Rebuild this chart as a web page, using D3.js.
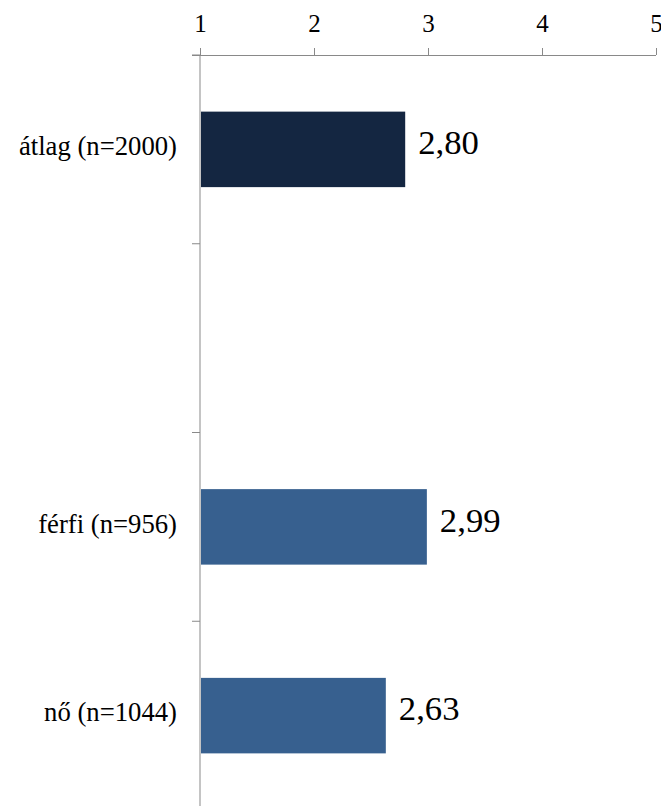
<!DOCTYPE html>
<html>
<head>
<meta charset="utf-8">
<script src="https://cdn.jsdelivr.net/npm/d3@7"></script>
<style>
  body { margin: 0; background: #fff; }
</style>
</head>
<body>
<div id="chart"></div>
<script>
// data
const categories = ["átlag (n=2000)", "", "férfi (n=956)", "nő (n=1044)"];
const values = [2.80, null, 2.99, 2.63];
const barColors = ["#142641", "#37608f", "#37608f", "#37608f"];
const xTicks = [1, 2, 3, 4, 5];

const width = 661, height = 806;
const margin = { top: 55, left: 200, right: 5 };
const plotBottom = 810; // plot area runs past the window bottom
const serif = '"Liberation Serif", "Times New Roman", serif';

const svg = d3.select("#chart")
  .append("svg")
  .attr("width", width)
  .attr("height", height);

const x = d3.scaleLinear()
  .domain([1, 5])
  .range([margin.left, 656]);

// inner 0.6 + outer 0.3 keeps each bar centred in its slot
const y = d3.scaleBand()
  .domain(d3.range(categories.length))
  .range([margin.top, plotBottom])
  .paddingInner(0.6)
  .paddingOuter(0.3);

const axisColor = "#898989";

// top value axis
const xAxis = svg.append("g")
  .attr("transform", `translate(0,${margin.top})`)
  .call(d3.axisTop(x).tickValues(xTicks).tickFormat(d3.format("d"))
    .tickSize(7).tickPadding(16).tickSizeOuter(0));
xAxis.select(".domain").attr("stroke", axisColor).attr("d", `M${margin.left - 8},0.5H${x(5)}`);
xAxis.selectAll(".tick line").attr("stroke", axisColor);
xAxis.selectAll(".tick text")
  .attr("font-size", 25)
  .style("font-family", serif)
  .attr("fill", "#000");

// left category axis with ticks on slot boundaries
const step = y.step();
const bounds = d3.range(categories.length + 1).map(i => margin.top + i * step);
svg.append("line")
  .attr("x1", margin.left).attr("x2", margin.left)
  .attr("y1", margin.top).attr("y2", plotBottom)
  .attr("stroke", axisColor);
svg.selectAll(".ctick")
  .data(bounds)
  .join("line")
  .attr("class", "ctick")
  .attr("x1", margin.left - 8).attr("x2", margin.left)
  .attr("y1", d => d).attr("y2", d => d)
  .attr("stroke", axisColor);

const rows = categories.map((c, i) => ({ c, v: values[i], i }));

svg.selectAll(".clabel")
  .data(rows.filter(d => d.c))
  .join("text")
  .attr("class", "clabel")
  .attr("x", 177)
  .attr("y", d => y(d.i) + y.bandwidth() / 2)
  .attr("dy", "0.22em")
  .attr("text-anchor", "end")
  .attr("font-size", 26.7)
  .style("font-family", serif)
  .text(d => d.c);

const bars = rows.filter(d => d.v != null);

svg.selectAll(".bar")
  .data(bars)
  .join("rect")
  .attr("class", "bar")
  .attr("x", x(1) + 1)
  .attr("y", d => y(d.i))
  .attr("width", d => x(d.v) - x(1) - 1)
  .attr("height", y.bandwidth())
  .attr("fill", d => barColors[d.i]);

svg.selectAll(".vlabel")
  .data(bars)
  .join("text")
  .attr("class", "vlabel")
  .attr("x", d => x(d.v) + 13)
  .attr("y", d => y(d.i) + y.bandwidth() / 2)
  .attr("dy", "0.14em")
  .attr("font-size", 34.7)
  .style("font-family", serif)
  .text(d => d3.format(".2f")(d.v).replace(".", ","));
</script>
</body>
</html>
